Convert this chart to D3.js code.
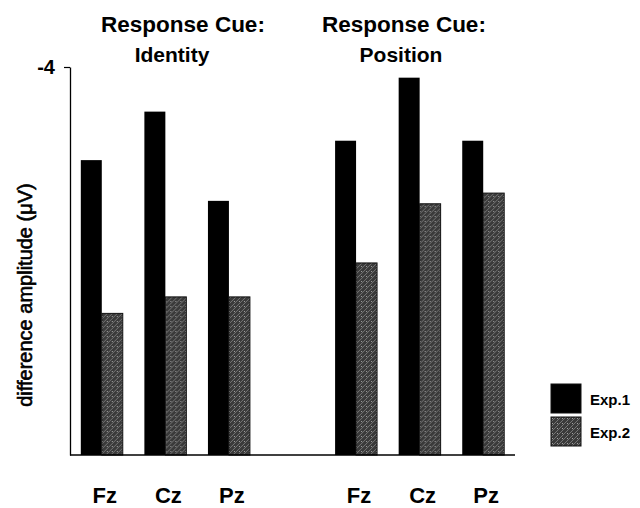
<!DOCTYPE html>
<html>
<head>
<meta charset="utf-8">
<script src="https://cdn.jsdelivr.net/npm/d3@7"></script>
<style>
  html, body { margin: 0; padding: 0; background: #fff; }
  svg { display: block; font-family: "Liberation Sans", Arial, Helvetica, sans-serif; }
</style>
</head>
<body>
<div id="chart"></div>
<script>
// Data (difference amplitude, µV; negative is up)
const conditions = ["Identity", "Position"];
const electrodes = ["Fz", "Cz", "Pz"];
const seriesNames = ["Exp.1", "Exp.2"];
const exp1 = [-3.04, -3.54, -2.62, -3.24, -3.89, -3.24];
const exp2 = [-1.46, -1.63, -1.63, -1.98, -2.59, -2.70];
const yTicks = [-4];

const W = 640, H = 508;

const svg = d3.select("#chart").append("svg")
    .attr("width", W)
    .attr("height", H);

// Texture for Exp.2 bars (scanned grey screen)
const defs = svg.append("defs");
const pat = defs.append("pattern")
    .attr("id", "grain")
    .attr("patternUnits", "userSpaceOnUse")
    .attr("width", 5)
    .attr("height", 5);
pat.append("rect").attr("width", 5).attr("height", 5).attr("fill", "#3a3a3a");
pat.append("path")
    .attr("d", "M0,5 L5,0 M-1,1 L1,-1 M4,6 L6,4")
    .attr("stroke", "#8c8c8c")
    .attr("stroke-width", 0.7);
pat.append("rect").attr("x", 1).attr("y", 1).attr("width", 0.8).attr("height", 0.8).attr("fill", "#ddd");

// slots: three electrodes per condition, with an empty slot in between
const slots = [];
conditions.forEach((c, ci) => {
    if (ci > 0) slots.push("gap");
    electrodes.forEach(e => slots.push(c + "-" + e));
});

const rows = [];
conditions.forEach((c, ci) => {
    electrodes.forEach((e, ei) => {
        const i = ci * electrodes.length + ei;
        rows.push({ key: c + "-" + e, cond: c, elec: e, values: [exp1[i], exp2[i]] });
    });
});

const x = d3.scaleBand()
    .domain(slots)
    .range([70, 515])
    .paddingInner(0.34)
    .paddingOuter(0.17);

const xi = d3.scaleBand()
    .domain(seriesNames)
    .range([0, x.bandwidth()]);

const y = d3.scaleLinear()
    .domain([0, -4])
    .range([455, 67]);

const fills = ["#000", "url(#grain)"];

// Bars
const groups = svg.selectAll(".grp")
    .data(rows)
    .enter().append("g")
    .attr("class", "grp")
    .attr("transform", d => `translate(${x(d.key)},0)`);

groups.selectAll("rect")
    .data(d => d.values.map((v, k) => ({ name: seriesNames[k], v: v, k: k })))
    .enter().append("rect")
    .attr("x", d => xi(d.name))
    .attr("width", xi.bandwidth())
    .attr("y", d => y(d.v))
    .attr("height", d => y(0) - y(d.v))
    .attr("fill", d => fills[d.k])
    .attr("stroke", d => d.k === 1 ? "#111" : "none")
    .attr("stroke-width", 1);

// Electrode labels
groups.append("text")
    .attr("x", x.bandwidth() / 2 + 3)
    .attr("y", 503)
    .attr("text-anchor", "middle")
    .style("font-size", "22px")
    .style("font-weight", "bold")
    .text(d => d.elec);

// Y axis
const yAxis = svg.append("g")
    .attr("transform", "translate(70,0)")
    .call(d3.axisLeft(y).tickValues(yTicks).tickSize(6).tickSizeOuter(0).tickPadding(9)
        .tickFormat(d => String(d)));
yAxis.select(".domain").attr("stroke", "#000").attr("stroke-width", 1.3);
yAxis.selectAll(".tick line").attr("stroke", "#000").attr("stroke-width", 1.2);
yAxis.selectAll(".tick text")
    .attr("fill", "#000")
    .style("font-size", "20px")
    .style("font-weight", "bold")
    .style("font-family", "'Liberation Sans', Arial, sans-serif");

// Baseline
svg.append("line")
    .attr("x1", x.range()[0])
    .attr("x2", x.range()[1])
    .attr("y1", y(0))
    .attr("y2", y(0))
    .attr("stroke", "#000")
    .attr("stroke-width", 1.5);

// Y label
svg.append("text")
    .attr("transform", `translate(32,${(y(0) + y(-4)) / 2 + 34}) rotate(-90)`)
    .attr("text-anchor", "middle")
    .style("font-size", "20px")
    .attr("stroke", "#000")
    .attr("stroke-width", 0.6)
    .text("difference amplitude (\u03BCV)");

// Condition titles
const titleX = { Identity: [183, 172], Position: [404, 401] };
conditions.forEach(c => {
    svg.append("text")
        .attr("x", titleX[c][0])
        .attr("y", 32)
        .attr("text-anchor", "middle")
        .style("font-size", "22.5px")
        .style("font-weight", "bold")
        .text("Response Cue:");
    svg.append("text")
        .attr("x", titleX[c][1])
        .attr("y", 62)
        .attr("text-anchor", "middle")
        .style("font-size", "21px")
        .style("font-weight", "bold")
        .text(c);
});

// Legend
const legend = svg.selectAll(".legend-item")
    .data(seriesNames)
    .enter().append("g")
    .attr("class", "legend-item")
    .attr("transform", (d, i) => `translate(551,${384 + i * 33})`);

legend.append("rect")
    .attr("width", 30)
    .attr("height", 29)
    .attr("fill", (d, i) => fills[i])
    .attr("stroke", "#111")
    .attr("stroke-width", 1);

legend.append("text")
    .attr("x", 39)
    .attr("y", 21)
    .style("font-size", "15px")
    .style("font-weight", "bold")
    .text(d => d);
</script>
</body>
</html>
